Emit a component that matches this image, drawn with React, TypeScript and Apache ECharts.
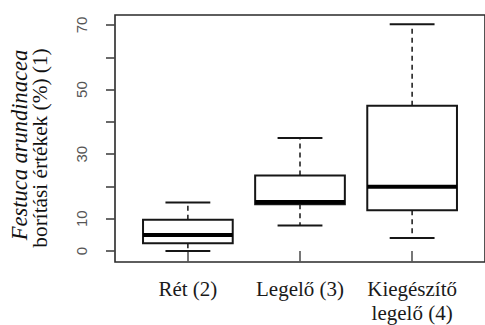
import React, { useEffect, useRef } from "react";
import * as echarts from "echarts";

const categories = ["Rét (2)", "Legelő (3)", "Kiegészítő\nlegelő (4)"];
const lowWhisker = [0, 7.9, 4];
const q1 = [2.4, 14.5, 12.6];
const median = [5, 15.2, 19.9];
const q3 = [9.7, 23.4, 45];
const highWhisker = [15, 35, 70.2];
const yTicks = [0, 10, 20, 30, 40, 50, 60, 70];
const yLabels = [0, 10, 30, 50, 70];
const titleLine1 = "Festuca arundinacea";
const titleLine2 = "borítási értékek (%) (1)";

const SERIF = "Liberation Serif, Times New Roman, DejaVu Serif, serif";
const SANS = "Liberation Sans, Arial, sans-serif";

export default function App() {
  const ref = useRef<HTMLDivElement>(null);
  useEffect(() => {
    if (!ref.current) return;
    const chart = echarts.init(ref.current, undefined, { renderer: "svg" });
    const data = categories.map((_, i) => [
      i + 1,
      lowWhisker[i],
      q1[i],
      median[i],
      q3[i],
      highWhisker[i],
    ]);
    const ink = "#161616";
    chart.setOption({
      animation: false,
      backgroundColor: "#ffffff",
      textStyle: { fontFamily: SERIF },
      grid: {
        left: 115,
        right: -11,
        top: 15,
        bottom: 60,
        show: true,
        borderColor: "#2a2a2a",
        borderWidth: 1.6,
        backgroundColor: "transparent",
      },
      xAxis: {
        type: "value",
        min: 0.35,
        max: 3.65,
        splitLine: { show: false },
        axisLine: { show: false },
        axisTick: {
          show: true,
          customValues: [1, 2, 3],
          length: 11,
          lineStyle: { color: "#555", width: 1.6 },
        },
        axisLabel: {
          customValues: [1, 2, 3],
          formatter: (v: number) => categories[Math.round(v) - 1] ?? "",
          margin: 15,
          fontFamily: SERIF,
          fontSize: 21,
          lineHeight: 24,
          color: "#1a1a1a",
        },
      },
      yAxis: {
        type: "value",
        min: -3.4,
        max: 73.1,
        splitLine: { show: false },
        axisLine: { show: false },
        axisTick: {
          show: true,
          customValues: yTicks,
          length: 9,
          lineStyle: { color: "#444", width: 1.6 },
        },
        axisLabel: {
          customValues: yLabels,
          rotate: 90,
          margin: 26,
          fontFamily: SANS,
          fontSize: 15,
          color: "#555",
        },
      },
      graphic: [
        {
          type: "text",
          x: 19,
          y: 145,
          rotation: Math.PI / 2,
          style: {
            text: titleLine1,
            fontFamily: SERIF,
            fontStyle: "italic",
            fontSize: 22.5,
            fill: "#111",
            textAlign: "center",
            textVerticalAlign: "middle",
          },
        },
        {
          type: "text",
          x: 40,
          y: 148,
          rotation: Math.PI / 2,
          style: {
            text: titleLine2,
            fontFamily: SERIF,
            fontSize: 21.3,
            fill: "#111",
            textAlign: "center",
            textVerticalAlign: "middle",
          },
        },
      ],
      series: [
        {
          type: "custom",
          data,
          encode: { x: 0, y: [1, 2, 3, 4, 5] },
          renderItem: (params: any, api: any) => {
            const x = api.value(0);
            const pLo = api.coord([x, api.value(1)]);
            const pQ1 = api.coord([x, api.value(2)]);
            const pMed = api.coord([x, api.value(3)]);
            const pQ3 = api.coord([x, api.value(4)]);
            const pHi = api.coord([x, api.value(5)]);
            const bw = api.size([0.8, 0])[0];
            const cw = api.size([0.4, 0])[0];
            const cx = pMed[0];
            const dashed = { stroke: ink, lineWidth: 1.5, lineDash: [5, 4], fill: null };
            const solid = { stroke: ink, lineWidth: 2, fill: null };
            return {
              type: "group",
              children: [
                {
                  type: "line",
                  shape: { x1: cx, y1: pQ3[1], x2: cx, y2: pHi[1] },
                  style: dashed,
                },
                {
                  type: "line",
                  shape: { x1: cx, y1: pQ1[1], x2: cx, y2: pLo[1] },
                  style: dashed,
                },
                {
                  type: "line",
                  shape: { x1: cx - cw / 2, y1: pHi[1], x2: cx + cw / 2, y2: pHi[1] },
                  style: solid,
                },
                {
                  type: "line",
                  shape: { x1: cx - cw / 2, y1: pLo[1], x2: cx + cw / 2, y2: pLo[1] },
                  style: solid,
                },
                {
                  type: "rect",
                  shape: { x: cx - bw / 2, y: pQ3[1], width: bw, height: pQ1[1] - pQ3[1] },
                  style: { stroke: ink, lineWidth: 2, fill: "#ffffff" },
                },
                {
                  type: "line",
                  shape: { x1: cx - bw / 2, y1: pMed[1], x2: cx + bw / 2, y2: pMed[1] },
                  style: { stroke: "#000", lineWidth: 4, fill: null },
                },
              ],
            };
          },
        },
      ],
    });
    return () => chart.dispose();
  }, []);
  return (
    <div
      ref={ref}
      style={{ position: "absolute", left: 0, top: 0, width: 485, height: 325 }}
    />
  );
}
